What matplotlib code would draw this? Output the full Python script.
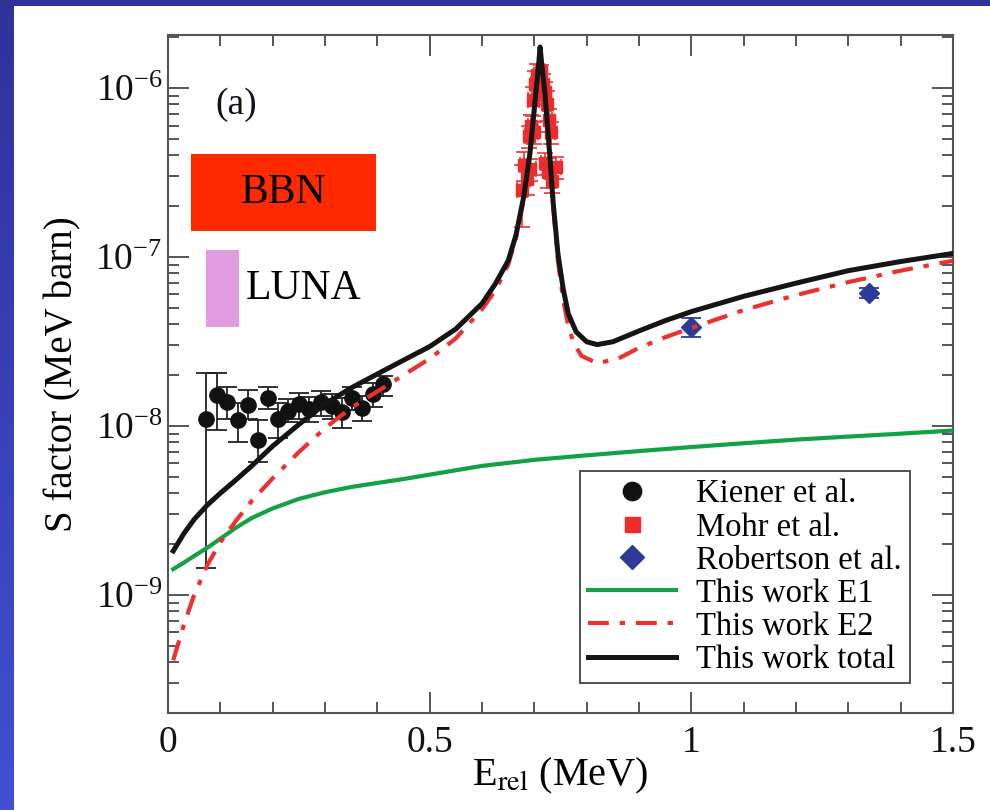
import numpy as np
import matplotlib
matplotlib.use('Agg')
import matplotlib.pyplot as plt
from matplotlib.patches import Rectangle
from matplotlib.ticker import LogLocator, LogFormatterMathtext, MultipleLocator, FixedLocator

plt.rcParams['font.family'] = ['Liberation Serif', 'DejaVu Serif']
plt.rcParams['mathtext.fontset'] = 'stix'

# Kiener et al. (S factor, lower / upper error bar ends)
kiener_e = [0.073, 0.093, 0.112, 0.133, 0.152, 0.172, 0.191, 0.211, 0.229,
            0.251, 0.270, 0.293, 0.313, 0.332, 0.351, 0.370, 0.391, 0.410]
kiener_s = [1.10e-8, 1.52e-8, 1.39e-8, 1.08e-8, 1.33e-8, 8.3e-9, 1.47e-8, 1.10e-8, 1.23e-8,
            1.34e-8, 1.26e-8, 1.39e-8, 1.31e-8, 1.21e-8, 1.47e-8, 1.28e-8, 1.54e-8, 1.77e-8]
kiener_lo = [1.45e-9, 9.4e-9, 1.10e-8, 8.0e-9, 1.10e-8, 6.1e-9, 1.26e-8, 8.5e-9, 1.05e-8,
             1.10e-8, 1.05e-8, 1.15e-8, 1.10e-8, 9.7e-9, 1.25e-8, 1.07e-8, 1.30e-8, 1.50e-8]
kiener_hi = [2.06e-8, 2.07e-8, 1.70e-8, 1.37e-8, 1.63e-8, 1.09e-8, 1.71e-8, 1.37e-8, 1.44e-8,
             1.57e-8, 1.48e-8, 1.62e-8, 1.55e-8, 1.47e-8, 1.69e-8, 1.50e-8, 1.80e-8, 1.98e-8]

# Mohr et al.
mohr_e = [0.690, 0.694, 0.698, 0.700, 0.702, 0.706, 0.709, 0.713, 0.717, 0.720, 0.724,
          0.728, 0.731, 0.676, 0.680, 0.686, 0.692, 0.720, 0.727, 0.734, 0.741]
mohr_s = [5.2e-7, 6.0e-7, 8.5e-7, 5.5e-7, 1.05e-6, 1.2e-6, 1.1e-6, 1.25e-6, 1.05e-6, 9.5e-7, 8.0e-7,
          6.5e-7, 5.5e-7, 2.5e-7, 3.5e-7, 2.9e-7, 3.3e-7, 3.6e-7, 3.2e-7, 2.8e-7, 3.4e-7]
mohr_rel = [0.15, 0.15, 0.2, 0.15, 0.2, 0.15, 0.15, 0.1, 0.15, 0.15, 0.2,
            0.15, 0.15, 0.4, 0.2, 0.2, 0.15, 0.15, 0.2, 0.15, 0.15]
mohr_xerr = [0.008, 0.006, 0.010, 0.007, 0.008, 0.006, 0.009, 0.007, 0.006, 0.008, 0.007,
             0.006, 0.008, 0.010, 0.008, 0.006, 0.011, 0.008, 0.007, 0.008, 0.009]

# Robertson et al.
rob_e = [1.000, 1.340]
rob_s = [3.87e-8, 6.15e-8]
rob_lo = [3.37e-8, 5.70e-8]
rob_hi = [4.36e-8, 6.53e-8]

# calculated S factors
e1_e = [0.01, 0.03, 0.05, 0.075, 0.1, 0.13, 0.16, 0.2, 0.25, 0.3, 0.35, 0.4, 0.45,
        0.5, 0.6, 0.7, 0.8, 0.9, 1.0, 1.1, 1.2, 1.3, 1.4, 1.5]
e1_s = [1.42e-9, 1.55e-9, 1.7e-9, 1.9e-9, 2.15e-9, 2.5e-9, 2.85e-9, 3.25e-9, 3.7e-9, 4.05e-9,
        4.35e-9, 4.6e-9, 4.85e-9, 5.15e-9, 5.8e-9, 6.3e-9, 6.7e-9, 7.1e-9, 7.5e-9, 7.9e-9,
        8.3e-9, 8.65e-9, 9.0e-9, 9.4e-9]

e2_e = [0.01, 0.03, 0.05, 0.075, 0.1, 0.13, 0.16, 0.2, 0.25, 0.3, 0.35, 0.4, 0.45, 0.5,
        0.55, 0.6, 0.625, 0.65, 0.665, 0.68, 0.692, 0.702, 0.708, 0.711, 0.714, 0.72,
        0.728, 0.736, 0.745, 0.755, 0.765, 0.775, 0.79, 0.82, 0.86, 0.9, 0.95, 1.0,
        1.1, 1.2, 1.3, 1.4, 1.5]
e2_s = [4.1e-10, 6.6e-10, 1.0e-9, 1.5e-9, 2.05e-9, 2.75e-9, 3.6e-9, 4.9e-9, 7.0e-9, 9.7e-9,
        1.28e-8, 1.6e-8, 2.0e-8, 2.5e-8, 3.3e-8, 4.9e-8, 6.3e-8, 9.0e-8, 1.3e-7, 2.2e-7,
        4.0e-7, 8.5e-7, 1.3e-6, 1.7e-6, 1.35e-6, 9.0e-7, 4.4e-7, 2.0e-7, 9.5e-8, 5.6e-8,
        3.9e-8, 3.1e-8, 2.6e-8, 2.35e-8, 2.5e-8, 2.9e-8, 3.35e-8, 3.8e-8, 4.85e-8, 5.95e-8,
        7.1e-8, 8.3e-8, 9.5e-8]

tot_e = [0.01, 0.03, 0.05, 0.075, 0.1, 0.13, 0.16, 0.2, 0.25, 0.3, 0.35, 0.4, 0.45, 0.5,
         0.55, 0.6, 0.625, 0.65, 0.665, 0.68, 0.692, 0.702, 0.708, 0.711, 0.714, 0.72,
         0.728, 0.736, 0.745, 0.755, 0.765, 0.78, 0.8, 0.82, 0.85, 0.9, 0.95, 1.0,
         1.1, 1.2, 1.3, 1.4, 1.5]
tot_s = [1.82e-9, 2.3e-9, 2.8e-9, 3.4e-9, 4.0e-9, 4.8e-9, 5.8e-9, 7.6e-9, 1.02e-8, 1.35e-8,
         1.68e-8, 2.03e-8, 2.45e-8, 2.95e-8, 3.75e-8, 5.3e-8, 6.9e-8, 9.5e-8, 1.35e-7, 2.3e-7,
         4.2e-7, 8.8e-7, 1.35e-6, 1.75e-6, 1.4e-6, 9.5e-7, 4.6e-7, 2.1e-7, 1.05e-7, 6.5e-8,
         4.6e-8, 3.6e-8, 3.15e-8, 3.03e-8, 3.15e-8, 3.65e-8, 4.2e-8, 4.75e-8, 5.85e-8, 7.0e-8,
         8.3e-8, 9.4e-8, 1.05e-7]

# constraint boxes: (x0, x1, y0, y1)
bbn_box = [0.044, 0.398, 1.43e-7, 4.07e-7]
luna_box = [0.0727, 0.136, 3.87e-8, 1.10e-7]

y_major = [1e-9, 1e-8, 1e-7, 1e-6]

fig = plt.figure(figsize=(9.9, 8.1), dpi=100)
fig.patch.set_facecolor('white')

# slide-style blue frame on the left and top
bg = fig.add_axes([0, 0, 14 / 990, 1])
grad = np.linspace(0, 1, 256).reshape(-1, 1)
bg.imshow(grad, aspect='auto', cmap=matplotlib.colors.LinearSegmentedColormap.from_list(
    'blu', ['#2e3399', '#4150d2']), extent=[0, 1, 1, 0])
bg.set_axis_off()
fig.patches.append(Rectangle((0, 1 - 6 / 810), 1, 6 / 810, transform=fig.transFigure,
                             facecolor='#2e3399', edgecolor='none', zorder=0))

ax = fig.add_axes([168 / 990, 1 - 713 / 810, 785 / 990, 678 / 810])
ax.set_yscale('log')
ax.set_xlim(0, 1.5)
ax.set_ylim(2.0e-10, 2.06e-6)

gray = '#555555'
ax.errorbar(kiener_e, kiener_s,
            yerr=[np.array(kiener_s) - np.array(kiener_lo), np.array(kiener_hi) - np.array(kiener_s)],
            fmt='none', ecolor='#222222', elinewidth=1.3, capsize=7, capthick=1.3, zorder=2)
ax.plot(kiener_e, kiener_s, 'o', color='#111111', markersize=11, zorder=2, label='Kiener et al.')

mohr_err = np.array(mohr_s) * np.array(mohr_rel)
ax.errorbar(mohr_e, mohr_s, yerr=mohr_err, xerr=mohr_xerr, fmt='none', ecolor='#ee3333',
            elinewidth=1.2, capsize=6, capthick=1.2, zorder=2)
ax.plot(mohr_e, mohr_s, 's', color='#ee2c2c', markersize=9, zorder=2, label='Mohr et al.')

ax.errorbar(rob_e, rob_s,
            yerr=[np.array(rob_s) - np.array(rob_lo), np.array(rob_hi) - np.array(rob_s)],
            fmt='none', ecolor='#2e3a98', elinewidth=1.3, capsize=7, capthick=1.3, zorder=2)
ax.plot(rob_e, rob_s, 'D', color='#2e3a98', markersize=10, zorder=2, label='Robertson et al.')

ax.plot(e1_e, e1_s, color='#12a245', lw=3, zorder=3, label='This work E1')
ax.plot(e2_e, e2_s, color='#ee3030', lw=3, ls=(0, (5, 2.6, 1.3, 2.6)), zorder=3,
        label='This work E2')
ax.plot(tot_e, tot_s, color='#151515', lw=3.6, zorder=4, label='This work total')

ax.add_patch(Rectangle((bbn_box[0], bbn_box[2]), bbn_box[1] - bbn_box[0], bbn_box[3] - bbn_box[2],
                       facecolor='#ff2a00', edgecolor='none', zorder=1))
ax.text((bbn_box[0] + bbn_box[1]) / 2, np.sqrt(bbn_box[2] * bbn_box[3]), 'BBN',
        fontsize=30, ha='center', va='center', zorder=5)
ax.add_patch(Rectangle((luna_box[0], luna_box[2]), luna_box[1] - luna_box[0], luna_box[3] - luna_box[2],
                       facecolor='#e29ce0', edgecolor='none', zorder=1))
ax.text(luna_box[1] + 0.012, np.sqrt(luna_box[2] * luna_box[3]), 'LUNA',
        fontsize=30, ha='left', va='center', zorder=5)
ax.text(0.09, 8.0e-7, '(a)', fontsize=27, ha='left', va='center', color='#111122')

ax.xaxis.set_major_locator(MultipleLocator(0.5))
ax.xaxis.set_minor_locator(MultipleLocator(0.1))
ax.xaxis.set_major_formatter(matplotlib.ticker.FuncFormatter(lambda v, p: '%g' % v))
ax.yaxis.set_major_locator(FixedLocator(y_major))
ax.yaxis.set_minor_locator(LogLocator(base=10, subs=np.arange(2, 10), numticks=20))
ax.yaxis.set_major_formatter(LogFormatterMathtext())
ax.yaxis.set_minor_formatter(matplotlib.ticker.NullFormatter())

ax.tick_params(which='both', direction='in', top=True, right=True, colors=gray,
               labelcolor='#111111', labelsize=27, width=1.4)
ax.tick_params(which='major', length=15)
ax.tick_params(axis='y', which='major', pad=4)
ax.tick_params(axis='x', which='major', pad=9)
ax.tick_params(which='minor', length=8)
for s in ax.spines.values():
    s.set_color(gray)
    s.set_linewidth(1.5)

ax.set_xlabel(r'E$_{\mathrm{rel}}$ (MeV)', fontsize=29, labelpad=-3)
ax.set_ylabel('S factor (MeV barn)', fontsize=28, labelpad=10)

leg = ax.legend(loc='lower right', bbox_to_anchor=(0.945, 0.044), fontsize=23.5,
                frameon=True, fancybox=False, edgecolor='#333333', framealpha=1,
                handlelength=2.7, handletextpad=0.6, labelspacing=0.08,
                borderpad=0.25, borderaxespad=0, numpoints=1, markerscale=1.2)
leg.get_frame().set_linewidth(1.2)

fig.savefig('out.png', dpi=100, facecolor='white')
